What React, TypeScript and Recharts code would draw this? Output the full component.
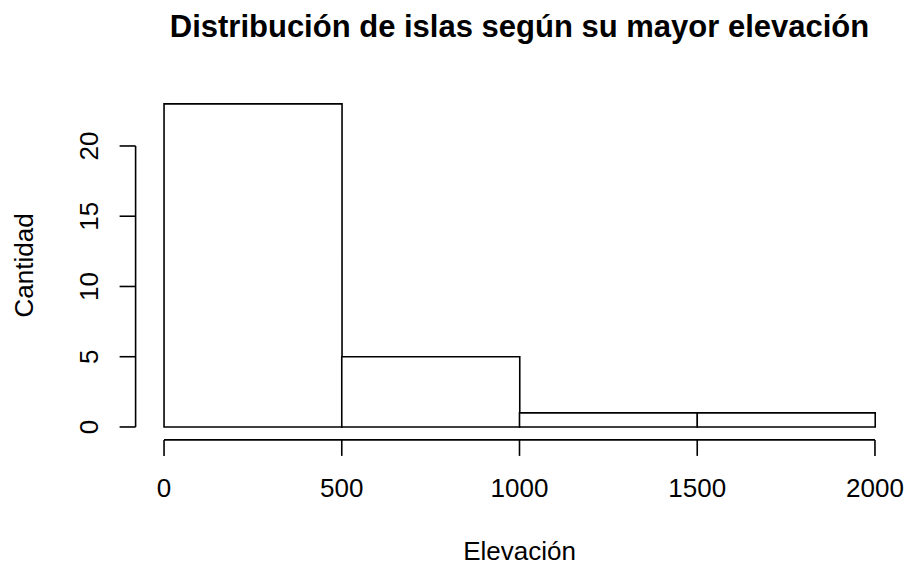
import React from 'react';
import { ComposedChart, Bar, XAxis, YAxis, ReferenceLine, Label } from 'recharts';

const binEdges = [0, 500, 1000, 1500, 2000];
const counts = [23, 5, 1, 1];
const xTicks = [0, 500, 1000, 1500, 2000];
const yTicks = [0, 5, 10, 15, 20];
const title = 'Distribución de islas según su mayor elevación';
const xLabel = 'Elevación';
const yLabel = 'Cantidad';

const data = counts.map((c, i) => ({ mid: (binEdges[i] + binEdges[i + 1]) / 2, count: c }));
const xMin = binEdges[0];
const xMax = binEdges[binEdges.length - 1];
const xPad = (xMax - xMin) * 0.04;
const yMaxData = Math.max(...counts);
const yPad = yMaxData * 0.04;

const FONT = '"Liberation Sans", Arial, Helvetica, sans-serif';
const W = 909;
const H = 565;
const PLOT_LEFT = 135.6;
const PLOT_RIGHT = 903.4;
const PLOT_TOP = 90.9;
const PLOT_BOTTOM = 439.9;
const XAXIS_H = 60;
const YAXIS_W = 60;
const LW = 1.6;

const XTick = (props: any) => {
  const { x, y, payload } = props;
  return (
    <text x={x} y={y} dy="0.71em" textAnchor="middle" fontSize={26} fontFamily={FONT} fill="#000">
      {payload.value}
    </text>
  );
};

const YTick = (props: any) => {
  const { x, y, payload } = props;
  return (
    <text x={x} y={y} transform={`rotate(-90, ${x}, ${y})`} textAnchor="middle" fontSize={26} fontFamily={FONT} fill="#000">
      {payload.value}
    </text>
  );
};

export default function App() {
  const cx = (PLOT_LEFT + PLOT_RIGHT) / 2;
  const cy = (PLOT_TOP + PLOT_BOTTOM) / 2;
  return (
    <div style={{ position: 'absolute', left: 0, top: 0, width: W, height: H, background: '#fff' }}>
      <ComposedChart
        width={W}
        height={H}
        data={data}
        barCategoryGap={0}
        barGap={0}
        margin={{ top: PLOT_TOP, right: W - PLOT_RIGHT, bottom: H - PLOT_BOTTOM - XAXIS_H, left: PLOT_LEFT - YAXIS_W }}
      >
        <XAxis
          dataKey="mid"
          type="number"
          domain={[xMin - xPad, xMax + xPad]}
          ticks={xTicks}
          allowDataOverflow
          height={XAXIS_H}
          axisLine={false}
          tickLine={{ stroke: '#000', strokeWidth: LW }}
          tickSize={16}
          tickMargin={23}
          tick={<XTick />}
          interval={0}
        >
          <Label
            content={() => (
              <g>
                <text x={cx} y={560.3} textAnchor="middle" fontSize={26} fontFamily={FONT} fill="#000">
                  {xLabel}
                </text>
                <text x={cx} y={36.5} textAnchor="middle" fontSize={31} fontWeight="bold" fontFamily={FONT} fill="#000">
                  {title}
                </text>
              </g>
            )}
          />
        </XAxis>
        <YAxis
          type="number"
          domain={[-yPad, yMaxData + yPad]}
          ticks={yTicks}
          allowDataOverflow
          width={YAXIS_W}
          axisLine={false}
          tickLine={{ stroke: '#000', strokeWidth: LW }}
          tickSize={16}
          tickMargin={21.6}
          tick={<YTick />}
          interval={0}
        >
          <Label
            content={() => (
              <text x={33} y={cy} transform={`rotate(-90, 33, ${cy})`} textAnchor="middle" fontSize={26} fontFamily={FONT} fill="#000">
                {yLabel}
              </text>
            )}
          />
        </YAxis>
        <Bar dataKey="count" fill="#fff" stroke="#000" strokeWidth={LW} isAnimationActive={false} />
        <ReferenceLine
          segment={[{ x: xMin - xPad, y: yTicks[0] }, { x: xMin - xPad, y: yTicks[yTicks.length - 1] }]}
          stroke="#000"
          strokeWidth={LW}
          ifOverflow="visible"
        />
        <ReferenceLine
          segment={[{ x: xTicks[0], y: -yPad }, { x: xTicks[xTicks.length - 1], y: -yPad }]}
          stroke="#000"
          strokeWidth={LW}
          ifOverflow="visible"
        />
      </ComposedChart>
    </div>
  );
}
